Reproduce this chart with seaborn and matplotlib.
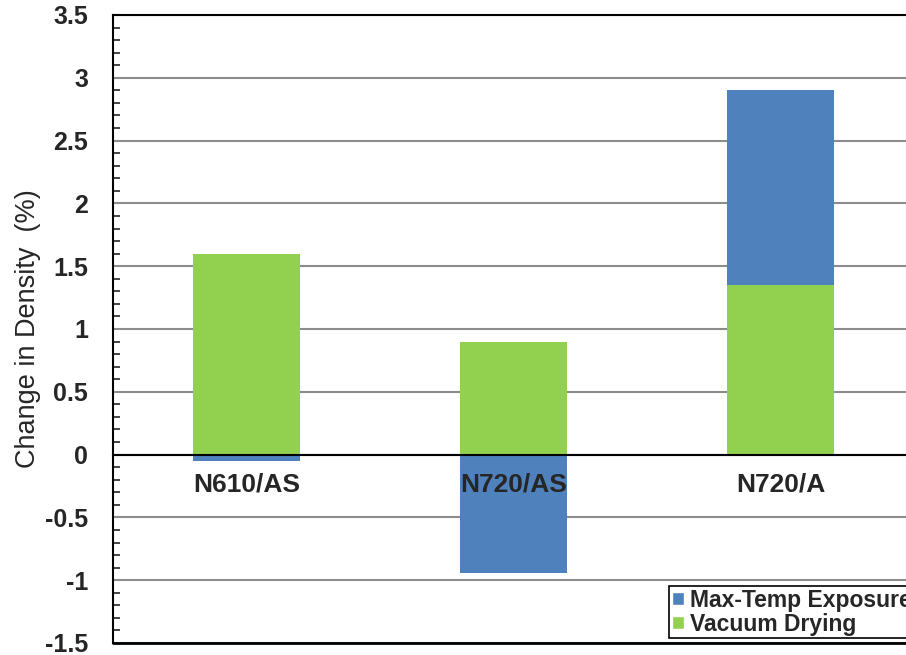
import numpy as np
import pandas as pd
import seaborn as sns
import matplotlib.pyplot as plt
from matplotlib.patches import Patch
from matplotlib.ticker import MultipleLocator

# Values
categories = ["N610/AS", "N720/AS", "N720/A"]
vacuum_drying = [1.60, 0.90, 1.35]
max_temp_exposure = [-0.05, -0.94, 1.55]
series_names = ["Max-Temp Exposure", "Vacuum Drying"]

blue = "#4F81BD"
green = "#92D050"

sns.set_style("white")
plt.rcParams["font.family"] = ["Liberation Sans", "DejaVu Sans"]

# positive exposure stacks on top of drying, negative hangs below zero
blue_top = [g + b if b > 0 else b for g, b in zip(vacuum_drying, max_temp_exposure)]
df = pd.DataFrame({"material": categories, "drying": vacuum_drying, "blue_top": blue_top})

fig = plt.figure(figsize=(9.06, 6.55), dpi=100)
ax = fig.add_axes([113 / 906, 12 / 655, 801 / 906, 628 / 655])

sns.barplot(data=df, x="material", y="blue_top", color=blue, saturation=1,
            width=0.4, ax=ax, edgecolor="none", linewidth=0)
sns.barplot(data=df, x="material", y="drying", color=green, saturation=1,
            width=0.4, ax=ax, edgecolor="none", linewidth=0)

ax.set_xlim(-0.5, 2.5)
ax.set_ylim(-1.5, 3.5)
ax.yaxis.set_major_locator(MultipleLocator(0.5))
ax.yaxis.set_minor_locator(MultipleLocator(0.1))
ax.set_yticks(np.arange(-1.5, 3.51, 0.5))
ax.set_yticklabels([f"{v:g}" for v in np.arange(-1.5, 3.51, 0.5)],
                   fontsize=18, fontweight="bold")
ax.tick_params(axis="y", which="major", direction="in", length=5, width=1.3, pad=18)
ax.tick_params(axis="y", which="minor", direction="in", length=5, width=1.2, left=True)

ax.yaxis.grid(True, color="#8c8c8c", linewidth=1.5)
ax.set_axisbelow(True)
# category labels sit over the bars
ax.xaxis.set_zorder(3)

# category axis runs along zero
ax.spines["bottom"].set_position(("data", 0))
ax.set_xticks([0.5, 1.5])
ax.set_xticklabels([])
ax.set_xticks(range(len(categories)), minor=True)
ax.set_xticklabels(categories, minor=True, fontsize=19, fontweight="bold")
ax.tick_params(axis="x", which="major", direction="in", length=6, width=1.5)
ax.tick_params(axis="x", which="minor", length=0, pad=13)
ax.axhline(-1.5, color="black", linewidth=2, clip_on=False, zorder=5)

for side in ["left", "top", "bottom", "right"]:
    ax.spines[side].set_color("black")
    ax.spines[side].set_linewidth(1.5)

ax.set_xlabel("")
ax.set_ylabel("Change in Density  (%)", fontsize=19.5, labelpad=3)

handles = [Patch(facecolor=blue), Patch(facecolor=green)]
leg = ax.legend(handles, series_names, loc="lower right", bbox_to_anchor=(1.0, 0.008),
                frameon=True, fancybox=False, edgecolor="black", framealpha=1,
                prop={"size": 16.5, "weight": "bold"}, handlelength=0.55,
                handleheight=0.55, handletextpad=0.25, labelspacing=0.05,
                borderpad=0.1, borderaxespad=0)
leg.get_frame().set_linewidth(1.2)

fig.savefig("out.png", dpi=100)
